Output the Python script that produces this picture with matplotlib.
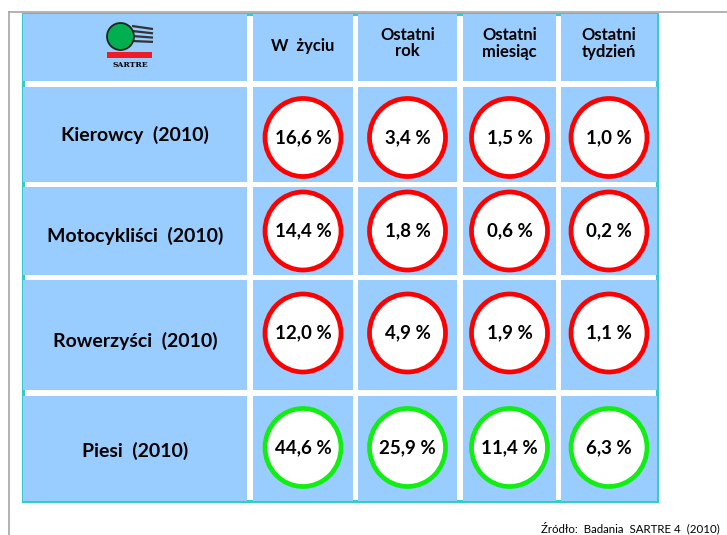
import matplotlib.pyplot as plt
from matplotlib.patches import Rectangle, Ellipse

# -----------------------------
# Data
# -----------------------------
periods = ["W  życiu", "Ostatni\nrok", "Ostatni\nmiesiąc", "Ostatni\ntydzień"]
groups = ["Kierowcy  (2010)", "Motocykliści  (2010)", "Rowerzyści  (2010)", "Piesi  (2010)"]
kierowcy = [16.6, 3.4, 1.5, 1.0]
motocyklisci = [14.4, 1.8, 0.6, 0.2]
rowerzysci = [12.0, 4.9, 1.9, 1.1]
piesi = [44.6, 25.9, 11.4, 6.3]
source = "Źródło:  Badania  SARTRE 4  (2010)"

values = [kierowcy, motocyklisci, rowerzysci, piesi]
ring_colors = ["#ff0000", "#ff0000", "#ff0000", "#11ee11"]

# -----------------------------
# Layout (pixel grid)
# -----------------------------
col_edges = [(23, 247), (253, 353), (358, 457), (463, 556), (561, 657)]
row_edges = [(14, 81), (87, 182), (187, 275), (280, 390), (396, 501)]
label_shift = [0, 5, 6, 2]    # row labels sit a bit low in the original
circle_shift = [3, 0, -2, -1]
cell_blue = "#99ccff"
teal = "#33cccc"
FONT = ["Lato", "DejaVu Sans"]

fig = plt.figure(figsize=(7.27, 5.35), dpi=100)
ax = fig.add_axes([0, 0, 1, 1])
ax.set_xlim(0, 727)
ax.set_ylim(535, 0)
ax.axis("off")

# outer page frame
ax.plot([8.5, 727], [11.5, 11.5], color="#a6a6a6", lw=1.2)
ax.plot([8.5, 8.5], [11.5, 535], color="#a6a6a6", lw=1.2)

# table background with teal border
ax.add_patch(Rectangle((23, 14), 657 - 23, 501 - 14, facecolor="white",
                       edgecolor=teal, lw=2.2, zorder=1))

for (y0, y1) in row_edges:
    for (x0, x1) in col_edges:
        ax.add_patch(Rectangle((x0, y0), x1 - x0, y1 - y0,
                               facecolor=cell_blue, edgecolor="none", zorder=2))

# header
for j, lab in enumerate(periods):
    x0, x1 = col_edges[j + 1]
    y0, y1 = row_edges[0]
    yc = (y0 + y1) / 2 - (2 if j == 0 else 4)
    ax.text((x0 + x1) / 2, yc, lab, ha="center", va="center", fontsize=12,
            fontweight="bold", family=FONT, linespacing=1.0, zorder=5)

# logo
ax.add_patch(Ellipse((120.5, 36.5), 27, 27, facecolor="#00b050",
                     edgecolor="#222222", lw=1.3, zorder=4))
for k in range(4):
    ax.plot([132, 153], [26 + 5 * k, 29 + 4.3 * k], color="#333333", lw=1.6,
            zorder=3, solid_capstyle="butt")
ax.add_patch(Rectangle((107, 51.7), 45, 6.6, facecolor="#ee1c25",
                       edgecolor="none", zorder=4))
ax.text(130, 65, "SARTRE", ha="center", va="center", fontsize=5.5,
        fontweight="bold", family="DejaVu Serif", zorder=5)

# rows
for i, grp in enumerate(groups):
    y0, y1 = row_edges[i + 1]
    yc = (y0 + y1) / 2
    x0, x1 = col_edges[0]
    ax.text((x0 + x1) / 2, yc + label_shift[i], grp, ha="center", va="center",
            fontsize=14, fontweight="bold", family=FONT, zorder=5)
    cy = yc + circle_shift[i]
    for j, v in enumerate(values[i]):
        cx0, cx1 = col_edges[j + 1]
        cx = (cx0 + cx1) / 2
        ax.add_patch(Ellipse((cx, cy), 76, 78, facecolor="white",
                             edgecolor=ring_colors[i], lw=3.4, zorder=4))
        txt = f"{v:.1f}".replace(".", ",") + " %"
        ax.text(cx, cy, txt, ha="center", va="center", fontsize=13.5,
                fontweight="bold", family=FONT, zorder=5)

# source note
ax.text(541, 528, source, ha="left", va="center", fontsize=8.3,
        family=FONT, zorder=5)

fig.savefig("out.png", dpi=100)
